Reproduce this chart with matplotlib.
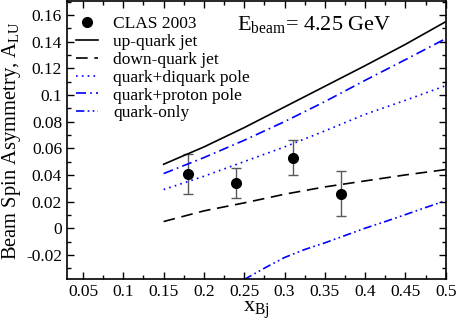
import matplotlib
matplotlib.use('Agg')
import matplotlib.pyplot as plt
from matplotlib.lines import Line2D
from matplotlib.ticker import MultipleLocator, FormatStrFormatter

plt.rcParams['font.family'] = ['Liberation Serif', 'DejaVu Serif']
plt.rcParams['mathtext.fontset'] = 'custom'
plt.rcParams['mathtext.rm'] = 'Liberation Serif'

# CLAS 2003 data
x_data = [0.18, 0.24, 0.31, 0.37]
y_data = [0.041, 0.034, 0.053, 0.026]
y_err = [0.015, 0.011, 0.013, 0.017]

# model curves
x_curve = [0.15, 0.2, 0.25, 0.3, 0.35, 0.4, 0.45, 0.5]
up_jet = [0.048, 0.061, 0.0755, 0.091, 0.1065, 0.122, 0.138, 0.155]
down_jet = [0.005, 0.013, 0.019, 0.0255, 0.031, 0.0355, 0.040, 0.044]
diquark_pole = [0.029, 0.039, 0.050, 0.061, 0.073, 0.0855, 0.096, 0.107]
proton_pole = [0.041, 0.053, 0.066, 0.080, 0.095, 0.111, 0.1265, 0.1423]

x_qonly = [0.25, 0.275, 0.3, 0.325, 0.35, 0.375, 0.4, 0.425, 0.45, 0.475, 0.5]
quark_only = [-0.0385, -0.030, -0.022, -0.016, -0.011, -0.0055, 0.0, 0.005, 0.0102, 0.0155, 0.0207]

fig = plt.figure(figsize=(4.57, 3.23), dpi=100)
ax = fig.add_axes([0.1464, 0.1347, 0.8289, 0.862])

ax.errorbar(x_data, y_data, yerr=y_err, fmt='o', color='black', ms=7,
            ecolor='0.35', elinewidth=1.0, capsize=3.5, capthick=1.0)
ax.plot(x_curve, up_jet, color='black', lw=1.2)
ax.plot(x_curve, down_jet, color='black', lw=1.2, dashes=(7, 4))
ax.plot(x_curve, diquark_pole, color='blue', lw=1.2, dashes=(1, 2.5))
ax.plot(x_curve, proton_pole, color='blue', lw=1.2, dashes=(6, 2.5, 1, 2.5))
ax.plot(x_qonly, quark_only, color='blue', lw=1.2, dashes=(5, 2, 1, 2, 1, 2))

handles = [
    Line2D([], [], ls='none', marker='o', color='black', ms=7),
    Line2D([], [], color='black', lw=1.2),
    Line2D([], [], color='black', lw=1.2, dashes=(7, 4)),
    Line2D([], [], color='blue', lw=1.2, dashes=(1, 2.5)),
    Line2D([], [], color='blue', lw=1.2, dashes=(6, 2.5, 1, 2.5)),
    Line2D([], [], color='blue', lw=1.2, dashes=(5, 2, 1, 2, 1, 2)),
]
labels = ['CLAS 2003', 'up-quark jet', 'down-quark jet', 'quark+diquark pole',
          'quark+proton pole', 'quark-only']

ax.set_xlim(0.03, 0.5)
ax.set_ylim(-0.0385, 0.1705)
ax.xaxis.set_major_locator(MultipleLocator(0.05))
ax.xaxis.set_minor_locator(MultipleLocator(0.025))
ax.yaxis.set_major_locator(MultipleLocator(0.02))
ax.yaxis.set_minor_locator(MultipleLocator(0.01))
ax.xaxis.set_major_formatter(FormatStrFormatter('%g'))
ax.yaxis.set_major_formatter(FormatStrFormatter('%g'))
ax.tick_params(which='both', direction='in', top=True, right=True, labelsize=12.5, width=1.0)
ax.tick_params(which='major', length=5)
ax.tick_params(which='minor', length=3)
for s in ax.spines.values():
    s.set_linewidth(1.2)

ax.set_xlabel(r'x$_{\mathrm{Bj}}$', fontsize=16, labelpad=0)
ax.set_ylabel(r'Beam Spin Asymmetry, A$_{\mathrm{LU}}$', fontsize=14.8, labelpad=2)
ax.text(0.449, 0.893, r'E$_{\mathrm{beam}}$= 4.25 GeV', transform=ax.transAxes, fontsize=16)

ax.legend(handles, labels, loc='upper left', bbox_to_anchor=(0.005, 0.972), frameon=False,
          fontsize=12.5, handlelength=1.3, handletextpad=0.85, labelspacing=0.1,
          borderaxespad=0.0)

fig.savefig('out.png', dpi=100)
